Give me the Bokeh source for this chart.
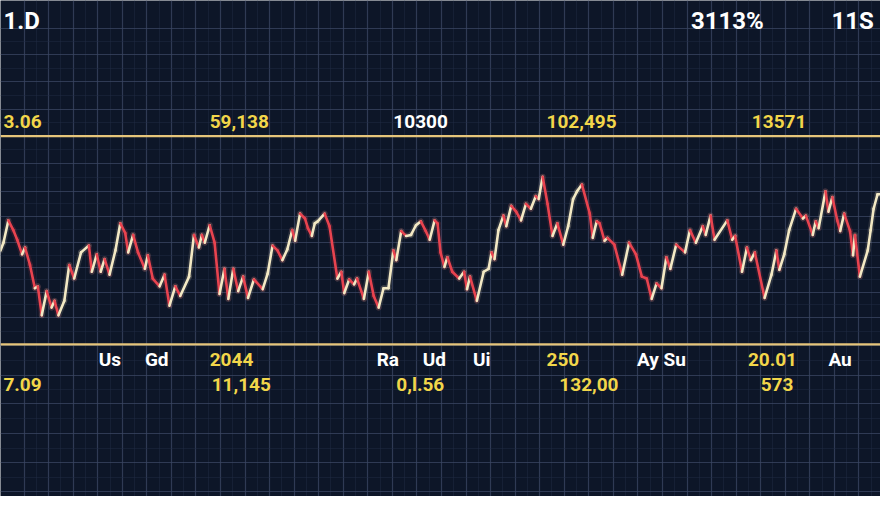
from bokeh.plotting import figure
from bokeh.models import Range1d, FixedTicker, ColumnDataSource
from bokeh.core.properties import value
from bokeh.embed import file_html
from bokeh.resources import INLINE

# ---------------- data ----------------
# time index (sample) and price readings of the traced series
t = [0, 3, 8, 13, 17, 22, 25, 30, 35, 38, 42, 47, 52, 55, 59, 65, 70, 75, 82, 90,
     93, 98, 102, 106, 111, 117, 122, 127, 130, 135, 140, 147, 150, 155, 162, 167,
     172, 178, 183, 192, 197, 202, 205, 208, 213, 218, 223, 228, 232, 237, 242, 247,
     252, 258, 267, 272, 277, 282, 287, 292, 297, 300, 305, 310, 313, 317, 320, 323,
     330, 335, 343, 347, 350, 355, 360, 363, 370, 375, 380, 385, 390, 395, 400, 403,
     408, 413, 418, 423, 428, 433, 437, 442, 445, 448, 452, 455, 460, 467, 472, 475,
     478, 485, 492, 497, 500, 503, 507, 512, 515, 520, 525, 530, 535, 540, 545, 548,
     552, 557, 562, 567, 573, 578, 583, 587, 592, 600, 603, 607, 610, 615, 618, 625,
     633, 640, 647, 653, 658, 663, 668, 673, 678, 682, 688, 697, 702, 708, 715, 718,
     723, 727, 740, 745, 748, 755, 760, 764, 768, 778, 785, 790, 793, 798, 803, 810,
     817, 820, 827, 830, 833, 840, 843, 847, 852, 855, 859, 865, 868, 870, 875, 883,
     886, 889, 893, 896]
price = [71, 75, 86.5, 81.5, 76.5, 69, 72.5, 63.5, 51.5, 52.5, 37.5, 50, 41.5, 45,
         37.5, 45, 63.5, 56.5, 70, 73.5, 60, 69, 60, 66.5, 58.5, 71, 85, 80, 70, 79,
         70, 61.5, 68.5, 56.5, 52.5, 58.5, 42.5, 52.5, 47.5, 57.5, 79, 72.5, 79, 75,
         84, 75, 48.5, 61.5, 46, 61.5, 50, 57.5, 46.5, 56, 51, 59, 73.5, 71, 66, 71.5,
         81.5, 76, 90, 87.5, 82.5, 78.5, 85, 86, 90, 83.5, 56.5, 60, 49, 56, 53.5, 56.5,
         46, 60, 47.5, 41.5, 51.5, 51.5, 71, 66, 81, 78.5, 79, 84, 86, 81, 76.5, 86.5,
         85, 70, 62.5, 67.5, 60, 56.5, 60, 51, 57.5, 45, 60, 61.5, 70, 66.5, 81.5, 89,
         83.5, 94, 91, 86.5, 95, 92.5, 99, 97.5, 109, 95, 78.5, 85, 74, 83.5, 97.5,
         101.5, 105, 90, 77.5, 86, 85, 76, 77.5, 74, 58.5, 75, 69, 57.5, 56.5, 46, 54,
         51.5, 67.5, 61.5, 74, 70, 81.5, 75, 83.5, 79, 89, 76.5, 86.5, 76.5, 78.5, 60,
         72.5, 66, 70, 46.5, 58.5, 71, 61, 69, 81.5, 92.5, 87.5, 89, 79, 86, 82.5, 101.5,
         91, 98.5, 86.5, 81, 90, 81, 68.5, 79, 57.5, 71, 81.5, 92.5, 100, 100]

# key levels (support / resistance)
levels = [130, 22.5]

# grid levels (price) and time grid
grid_prices = [185.5, 172, 158, 144, 130, 116, 101.5, 88.5, 75, 62, 49.5, 36.5,
               22, 6.5, -8, -23.5, -38.5, -53.5]
grid_times = list(range(24, 900, 25))

# readout labels
top_labels = ["1.D", "3113%", "11S"]
top_colors = ["#ffffff", "#ffffff", "#ffffff"]
upper_labels = ["3.06", "59,138", "10300", "102,495", "13571"]
upper_colors = ["#f2d64a", "#f2d64a", "#ffffff", "#f2d64a", "#f2d64a"]
lower_labels = ["Us", "Gd", "2044", "Ra", "Ud", "Ui", "250", "Ay Su", "20.01", "Au"]
lower_colors = ["#ffffff", "#ffffff", "#f2d64a", "#ffffff", "#ffffff", "#ffffff",
                "#f2d64a", "#ffffff", "#f2d64a", "#ffffff"]
bottom_labels = ["7.09", "11,145", "0,l.56", "132,00", "573"]
bottom_colors = ["#f2d64a"] * 5

# ---------------- layout ----------------
top_x = [3, 703, 846]
upper_x = [3, 213, 400, 556, 765]
lower_x = [100, 147, 213, 383, 430, 481, 556, 648, 761, 843]
bottom_x = [3, 215, 403, 569, 774]
row_y = {"top": 189.5, "upper": 137.5, "lower": 14.5, "bottom": 2}

BG = "#0d1628"
FONT = "Roboto"

p = figure(width=880, height=496, output_backend="svg", toolbar_location=None,
           x_range=Range1d(0, 896), y_range=Range1d(-56, 200),
           min_border=0, background_fill_color=BG, border_fill_color=BG,
           outline_line_color=None)
p.axis.visible = False

p.xgrid.ticker = FixedTicker(ticks=grid_times,
                             minor_ticks=[g + 12.5 for g in grid_times])
p.ygrid.ticker = FixedTicker(ticks=grid_prices,
                             minor_ticks=[(a + b) / 2 for a, b in zip(grid_prices[:-1], grid_prices[1:])])
for g in (p.xgrid, p.ygrid):
    g.grid_line_color = "#3b4763"
    g.grid_line_alpha = 0.75
    g.grid_line_width = 1.2
    g.minor_grid_line_color = "#222c44"
    g.minor_grid_line_alpha = 0.45

# key level lines
for lv in levels:
    p.line(x=[0, 896], y=[lv, lv], line_color="#e6c57a", line_width=2.2)

# price line, coloured by direction
x0, y0, x1, y1, cols = [], [], [], [], []
for i in range(len(t) - 1):
    x0.append(t[i]); y0.append(price[i]); x1.append(t[i + 1]); y1.append(price[i + 1])
    cols.append("#f3e9c4" if price[i + 1] >= price[i] else "#e8434f")
seg = ColumnDataSource(dict(x0=x0, y0=y0, x1=x1, y1=y1, c=cols))
p.segment(x0="x0", y0="y0", x1="x1", y1="y1", color="c", source=seg,
          line_width=6, line_alpha=0.12, line_cap="round")
p.segment(x0="x0", y0="y0", x1="x1", y1="y1", color="c", source=seg,
          line_width=2.6, line_cap="round", line_join="round")


def add_row(labels, xs, colors, y, size):
    src = ColumnDataSource(dict(x=xs, y=[y] * len(xs), text=labels, c=colors))
    p.text(x="x", y="y", text="text", text_color="c", source=src,
           text_font=value(FONT), text_font_size=size, text_font_style="bold",
           text_align="left", text_baseline="middle")


add_row(top_labels, top_x, top_colors, row_y["top"], "24px")
add_row(upper_labels, upper_x, upper_colors, row_y["upper"], "19px")
add_row(lower_labels, lower_x, lower_colors, row_y["lower"], "19px")
add_row(bottom_labels, bottom_x, bottom_colors, row_y["bottom"], "19px")

open("out.html", "w").write(file_html(p, INLINE))
